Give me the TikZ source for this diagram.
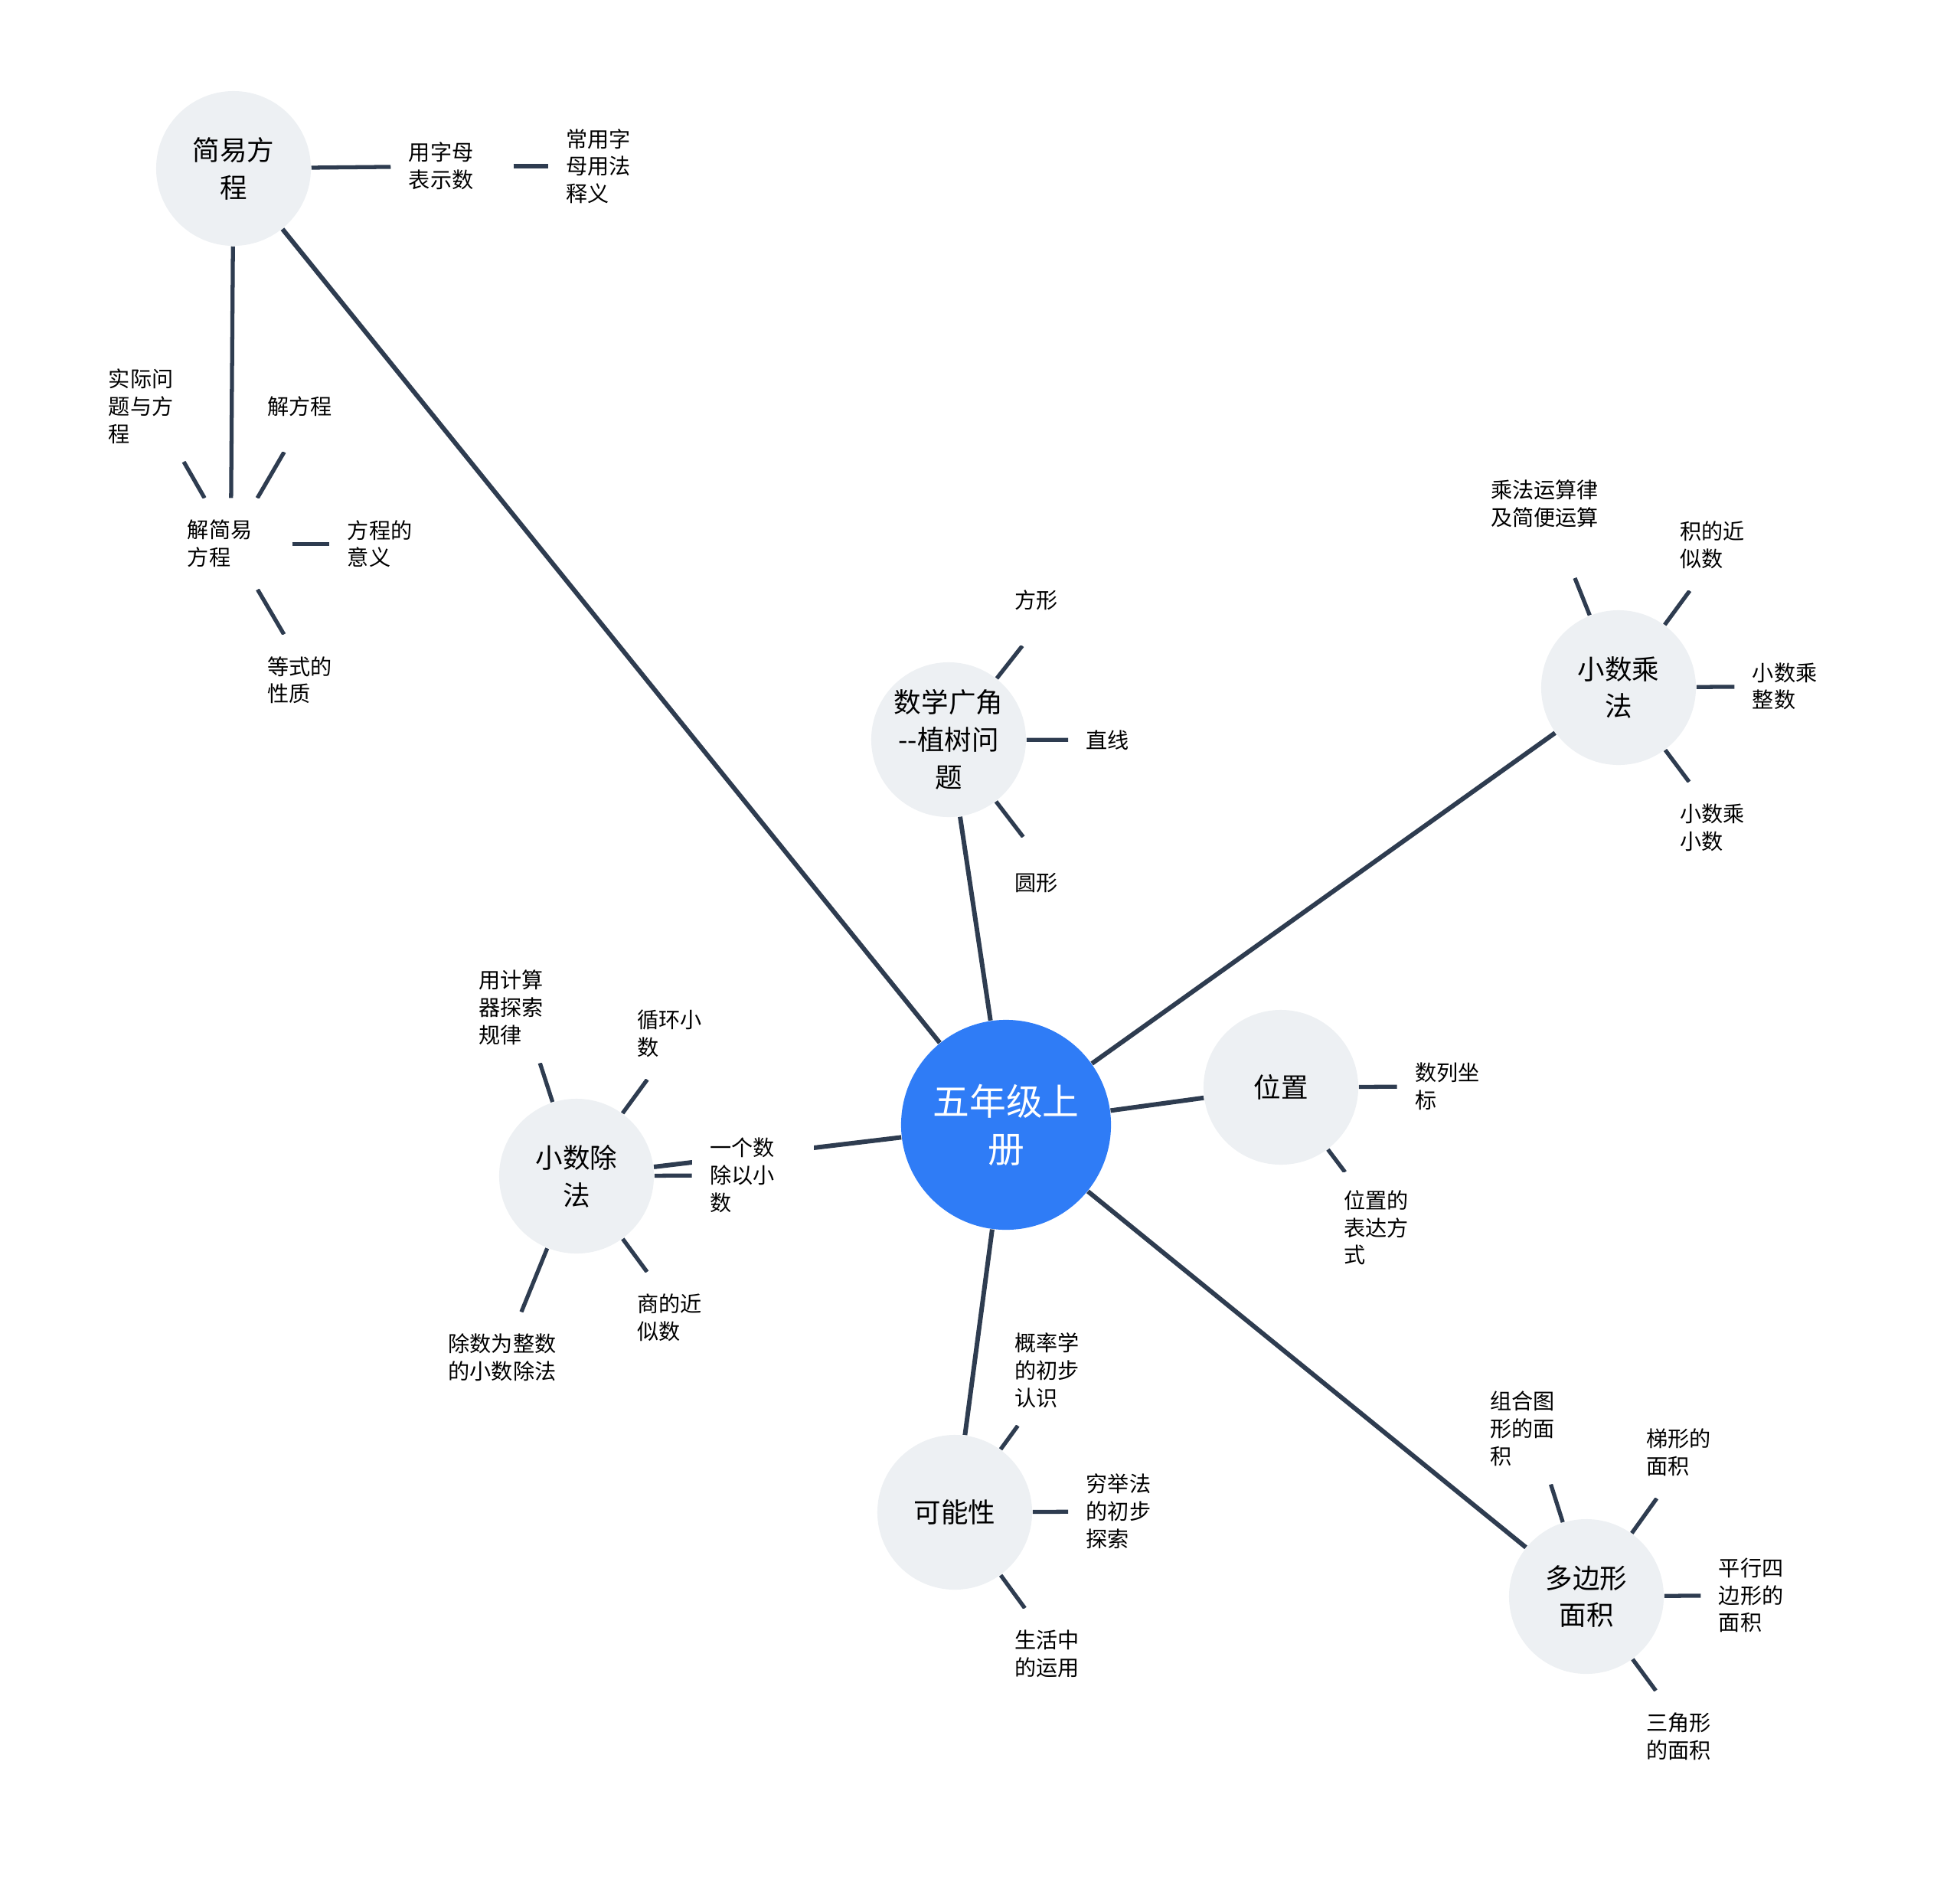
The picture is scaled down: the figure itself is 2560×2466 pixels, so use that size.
\documentclass[tikz,border=0pt]{standalone}
\usepackage{fontspec}
\setmainfont{Noto Sans CJK SC}
\usepackage{tikz}
\usetikzlibrary{backgrounds}
\definecolor{cRoot}{RGB}{47,124,246}
\definecolor{cBubble}{RGB}{237,240,243}
\definecolor{cLine}{RGB}{46,60,80}
\tikzset{
  rootnode/.style={circle,fill=cRoot,text=white,minimum size=2.74cm,inner sep=0pt,
                   align=center,font=\fontsize{13.6}{17.6}\selectfont},
  topicnode/.style={circle,fill=cBubble,minimum size=2.02cm,inner sep=0pt,
                    align=center,font=\fontsize{10.1}{13.9}\selectfont},
  leafnode/.style={rectangle,fill=white,inner sep=0.229cm,minimum height=1.18cm,
                   text width=1.13cm,align=left,font=\fontsize{8}{10.2}\selectfont},
  wideleaf/.style={leafnode,text width=1.42cm},
  trunk/.style={draw=cLine,line width=1.7pt},
  twig/.style={draw=cLine,line width=1.5pt}
}

\begin{document}
\begin{tikzpicture}[x=0.01cm,y=-0.01cm]
  \useasboundingbox (0,0) rectangle (2560,2466);

  \node[rootnode] (root) at (1314,1469) {五年级上\\册};

  \node[topicnode] (fangcheng) at (305,220) {简易方\\程};
  \node[topicnode] (zhishu) at (1239,966) {数学广角\\-{}-植树问\\题};
  \node[topicnode] (chengfa) at (2114,898) {小数乘\\法};
  \node[topicnode] (weizhi) at (1673,1420) {位置};
  \node[topicnode] (chufa) at (753,1536) {小数除\\法};
  \node[topicnode] (keneng) at (1247,1975) {可能性};
  \node[topicnode] (duobian) at (2072,2085) {多边形\\面积};

  % 简易方程
  \node[leafnode] (zimu) at (590.4,217.1) {用字母\\表示数};
  \node[leafnode] (changyong) at (796.1,217.1) {常用字\\母用法\\释义};
  \node[leafnode] (jiejianyi) at (301.4,710.2) {解简易\\方程};
  \node[leafnode] (shiji) at (198.5,530.6) {实际问\\题与方\\程};
  \node[leafnode] (jiefc) at (405.9,530.6) {解方程};
  \node[leafnode] (yiyi) at (510.4,710.2) {方程的\\意义};
  \node[leafnode] (dengshi) at (405.9,888.2) {等式的\\性质};

  % 数学广角
  \node[leafnode] (fangxing) at (1382.2,783.7) {方形};
  \node[leafnode] (zhixian) at (1475.3,966.5) {直线};
  \node[leafnode] (yuanxing) at (1382.2,1152.7) {圆形};

  % 小数乘法
  \node[wideleaf] (yunsuan) at (2018.3,658.0) {乘法运算律\\及简便运算};
  \node[leafnode] (jijinsi) at (2250.8,711.8) {积的近\\似数};
  \node[leafnode] (chengzheng) at (2345.5,896.3) {小数乘\\整数};
  \node[leafnode] (chengxiao) at (2250.8,1080.8) {小数乘\\小数};

  % 位置
  \node[leafnode] (zuobiao) at (1904.7,1418.8) {数列坐\\标};
  \node[leafnode] (biaoda) at (1811.6,1603.3) {位置的\\表达方\\式};

  % 小数除法
  \node[leafnode] (jisuanqi) at (681.8,1315.9) {用计算\\器探索\\规律};
  \node[leafnode] (xunhuan) at (889.1,1350.2) {循环小\\数};
  \node[leafnode] (yigeshu) at (983.8,1534.7) {一个数\\除以小\\数};
  \node[leafnode] (shangjs) at (889.1,1720.8) {商的近\\似数};
  \node[wideleaf] (zhengshu) at (656.7,1773.1) {除数为整数\\的小数除法};

  % 可能性
  \node[leafnode] (gailv) at (1382.2,1789.4) {概率学\\的初步\\认识};
  \node[leafnode] (qiongju) at (1475.3,1973.9) {穷举法\\的初步\\探索};
  \node[leafnode] (shenghuo) at (1382.2,2160.0) {生活中\\的运用};

  % 多边形面积
  \node[leafnode] (zuhe) at (2002.6,1866.1) {组合图\\形的面\\积};
  \node[leafnode] (tixing) at (2206.7,1897.1) {梯形的\\面积};
  \node[leafnode] (pingxing) at (2301.4,2083.3) {平行四\\边形的\\面积};
  \node[leafnode] (sanjiao) at (2206.7,2267.7) {三角形\\的面积};

  \begin{scope}[on background layer]
    \draw[trunk] (root) -- (fangcheng);
    \draw[trunk] (root) -- (zhishu);
    \draw[trunk] (root) -- (chengfa);
    \draw[trunk] (root) -- (weizhi);
    \draw[trunk] (root) -- (chufa);
    \draw[trunk] (root) -- (keneng);
    \draw[trunk] (root) -- (duobian);

    \draw[twig] (fangcheng) -- (zimu);
    \draw[twig] (zimu) -- (changyong);
    \draw[twig] (fangcheng) -- (jiejianyi);
    \draw[twig] (jiejianyi) -- (shiji);
    \draw[twig] (jiejianyi) -- (jiefc);
    \draw[twig] (jiejianyi) -- (yiyi);
    \draw[twig] (jiejianyi) -- (dengshi);

    \draw[twig] (zhishu) -- (fangxing);
    \draw[twig] (zhishu) -- (zhixian);
    \draw[twig] (zhishu) -- (yuanxing);

    \draw[twig,shorten >=0.4cm] (chengfa) -- (yunsuan);
    \draw[twig] (chengfa) -- (jijinsi);
    \draw[twig] (chengfa) -- (chengzheng);
    \draw[twig] (chengfa) -- (chengxiao);

    \draw[twig] (weizhi) -- (zuobiao);
    \draw[twig] (weizhi) -- (biaoda);

    \draw[twig] (chufa) -- (jisuanqi);
    \draw[twig] (chufa) -- (xunhuan);
    \draw[twig] (chufa) -- (yigeshu);
    \draw[twig] (chufa) -- (shangjs);
    \draw[twig] (chufa) -- (zhengshu);

    \draw[twig] (keneng) -- (gailv);
    \draw[twig] (keneng) -- (qiongju);
    \draw[twig] (keneng) -- (shenghuo);

    \draw[twig] (duobian) -- (zuhe);
    \draw[twig] (duobian) -- (tixing);
    \draw[twig] (duobian) -- (pingxing);
    \draw[twig] (duobian) -- (sanjiao);
  \end{scope}

\end{tikzpicture}
\end{document}
